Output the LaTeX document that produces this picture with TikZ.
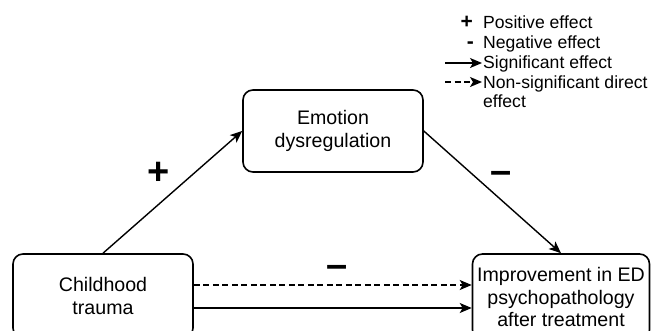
\documentclass[tikz,border=0pt]{standalone}
\usepackage{fontspec}
\setmainfont{Liberation Sans}
\usetikzlibrary{arrows.meta,positioning}

\begin{document}
\begin{tikzpicture}[x=1pt,y=-1pt,
    box/.style={draw, line width=1.6pt, rounded corners=10pt, align=center, font=\fontsize{19.6}{22.5}\selectfont},
    conn/.style={line width=1.4pt, -{Stealth[length=12pt,width=10pt,inset=3pt]}},
    sign/.style={font=\fontsize{38}{38}\selectfont\bfseries, inner sep=0pt},
    leg/.style={font=\fontsize{17.6}{19}\selectfont, inner sep=0pt, align=left},
    legsign/.style={font=\fontsize{21}{21}\selectfont\bfseries, inner sep=0pt}]
  \useasboundingbox (0,0) rectangle (651,331);
  \node[box, minimum width=180pt, minimum height=82pt] (emo) at (333,131) {Emotion\\dysregulation};
  \node[box, minimum width=180pt, minimum height=84pt] (trauma) at (103,296) {Childhood\\trauma};
  \node[box, minimum width=177pt, minimum height=86pt] (improve) at (561,297) {Improvement in ED\\psychopathology\\after treatment};
  \draw[conn] (trauma.north) -- (emo.west);
  \draw[conn] (emo.east) -- (improve.north);
  \draw[conn, dash pattern=on 6pt off 3.5pt] ([yshift=11pt]trauma.east) -- ([yshift=11pt]trauma.east -| improve.west);
  \draw[conn] ([yshift=-12pt]trauma.east) -- ([yshift=-12pt]trauma.east -| improve.west);
  \node[sign] (plusup) at (159,173) {+};
  \node[sign] (minusdown) at (501,177) {\textendash};
  \node[sign] (minusdirect) at (337,271) {\textendash};
  % legend
  \node[leg, anchor=base west] (lpos) at (483,29) {Positive effect};
  \node[leg, below=20pt of lpos.base west, anchor=base west] (lneg) {Negative effect};
  \node[leg, below=20pt of lneg.base west, anchor=base west] (lsig) {Significant effect};
  \node[leg, below=6.5pt of lsig.base west, anchor=north west] (lnon) {Non-significant direct\\effect};
  \node[legsign, left=10pt of lpos.base west, anchor=base east] (lplus) {+};
  \node[legsign, left=9pt of lneg.base west, anchor=base east] (lminus) {-};
  \coordinate (lsigtail) at (445,63);
  \coordinate (lnontail) at (445,82);
  \draw[conn, shorten >=1pt] (lsigtail) -- (lsigtail -| lsig.west);
  \draw[conn, shorten >=1pt, dash pattern=on 6pt off 3.5pt] (lnontail) -- (lnontail -| lnon.west);
\end{tikzpicture}
\end{document}
